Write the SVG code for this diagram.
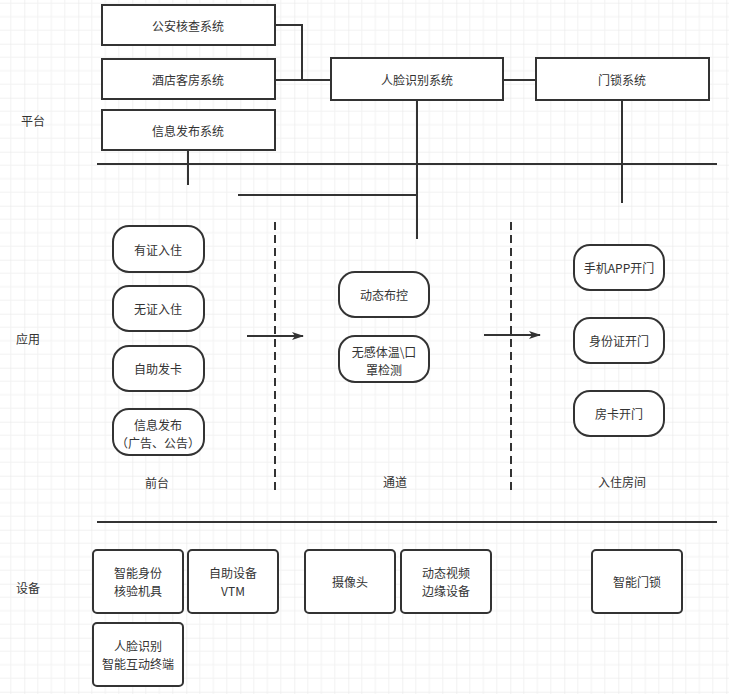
<svg xmlns="http://www.w3.org/2000/svg" width="729" height="694" viewBox="0 0 729 694">
<style>
.bx{fill:#ffffff;stroke:#333333;stroke-width:2}
.ln{fill:none;stroke:#333333;stroke-width:2}
.ds{fill:none;stroke:#333333;stroke-width:2;stroke-dasharray:8 5}
text{font-family:"Noto Sans CJK SC","Liberation Sans",sans-serif;font-size:12px;fill:#333333;text-anchor:middle;dominant-baseline:central}
</style>
<defs>
<pattern id="grid" patternUnits="userSpaceOnUse" x="24.3" y="43.7" width="54" height="54">
<path d="M13.5,0V54M27,0V54M40.5,0V54M0,13.5H54M0,27H54M0,40.5H54" stroke="#f2f2f2" stroke-width="1" fill="none"/>
<path d="M0,0V54M0,0H54" stroke="#e4e4e4" stroke-width="1" fill="none"/>
</pattern>
<marker id="arr" markerWidth="12" markerHeight="8" refX="11" refY="4" orient="auto" markerUnits="userSpaceOnUse">
<path d="M0,0 L12,4 L0,8 L3,4 z" fill="#333333"/>
</marker>
</defs>
<rect width="729" height="694" fill="#ffffff"/>
<rect width="729" height="694" fill="url(#grid)"/>

<g id="connectors">
<path class="ln" d="M275,25 H302 V80 H331"/>
<path class="ln" d="M275,80 H302"/>
<path class="ln" d="M503,80 H536"/>
<path class="ln" d="M188,150 V185"/>
<path class="ln" d="M97,164 H717"/>
<path class="ln" d="M238,195 H417"/>
<path class="ln" d="M417,100 V239"/>
<path class="ln" d="M622,100 V203"/>
<path class="ln" d="M97,522 H717"/>
<path class="ds" d="M275,222 V495"/>
<path class="ds" d="M511,222 V495"/>
<path class="ln" d="M247,336 H303" marker-end="url(#arr)"/>
<path class="ln" d="M484,335 H540" marker-end="url(#arr)"/>
</g>

<g id="label-platform"><text x="33" y="120">平台</text></g>
<g id="label-app"><text x="28" y="338">应用</text></g>
<g id="label-device"><text x="28" y="587">设备</text></g>

<g id="n-gongan"><rect class="bx" x="102" y="5" width="173" height="40"/><text x="188" y="25">公安核查系统</text></g>
<g id="n-jiudian"><rect class="bx" x="102" y="59" width="173" height="40"/><text x="188" y="79">酒店客房系统</text></g>
<g id="n-xinxi"><rect class="bx" x="102" y="110" width="173" height="40"/><text x="188" y="130">信息发布系统</text></g>
<g id="n-renlian"><rect class="bx" x="331" y="58" width="172" height="42"/><text x="417" y="79">人脸识别系统</text></g>
<g id="n-mensuo"><rect class="bx" x="536" y="58" width="173" height="42"/><text x="622" y="79">门锁系统</text></g>

<g id="n-youzheng"><rect class="bx" x="113" y="226" width="91" height="46" rx="16"/><text x="158" y="249">有证入住</text></g>
<g id="n-wuzheng"><rect class="bx" x="113" y="286" width="91" height="45" rx="16"/><text x="158" y="308">无证入住</text></g>
<g id="n-zizhufaka"><rect class="bx" x="113" y="346" width="91" height="45" rx="16"/><text x="158" y="368">自助发卡</text></g>
<g id="n-xinxifabu"><rect class="bx" x="113" y="409" width="91" height="46" rx="16"/><text x="158" y="424">信息发布<tspan x="158" dy="17.5">（广告、公告）</tspan></text></g>
<g id="label-qiantai"><text x="157" y="482">前台</text></g>

<g id="n-dongtai"><rect class="bx" x="339" y="272" width="90" height="45" rx="16"/><text x="384" y="294">动态布控</text></g>
<g id="n-wugan"><rect class="bx" x="339" y="336" width="90" height="46" rx="16"/><text x="384" y="351">无感体温\口<tspan x="384" dy="17.5">罩检测</tspan></text></g>
<g id="label-tongdao"><text x="395" y="481">通道</text></g>

<g id="n-shouji"><rect class="bx" x="574" y="245" width="90" height="45" rx="16"/><text x="619" y="267">手机APP开门</text></g>
<g id="n-shenfenzheng"><rect class="bx" x="574" y="318" width="90" height="45" rx="16"/><text x="619" y="340">身份证开门</text></g>
<g id="n-fangka"><rect class="bx" x="574" y="391" width="90" height="45" rx="16"/><text x="619" y="413">房卡开门</text></g>
<g id="label-ruzhu"><text x="622" y="481">入住房间</text></g>

<g id="d-shenfen"><rect class="bx" x="93" y="550" width="90" height="63" rx="4"/><text x="138" y="572">智能身份<tspan x="138" dy="17.5">核验机具</tspan></text></g>
<g id="d-vtm"><rect class="bx" x="188" y="550" width="90" height="63" rx="4"/><text x="233" y="572">自助设备<tspan x="233" dy="17.5">VTM</tspan></text></g>
<g id="d-camera"><rect class="bx" x="305" y="550" width="90" height="63" rx="4"/><text x="350" y="581">摄像头</text></g>
<g id="d-edge"><rect class="bx" x="401" y="550" width="90" height="63" rx="4"/><text x="446" y="572">动态视频<tspan x="446" dy="17.5">边缘设备</tspan></text></g>
<g id="d-lock"><rect class="bx" x="592" y="550" width="90" height="63" rx="4"/><text x="637" y="581">智能门锁</text></g>
<g id="d-face"><rect class="bx" x="93" y="623" width="90" height="63" rx="4"/><text x="138" y="645.5">人脸识别<tspan x="138" dy="17.5">智能互动终端</tspan></text></g>
</svg>
